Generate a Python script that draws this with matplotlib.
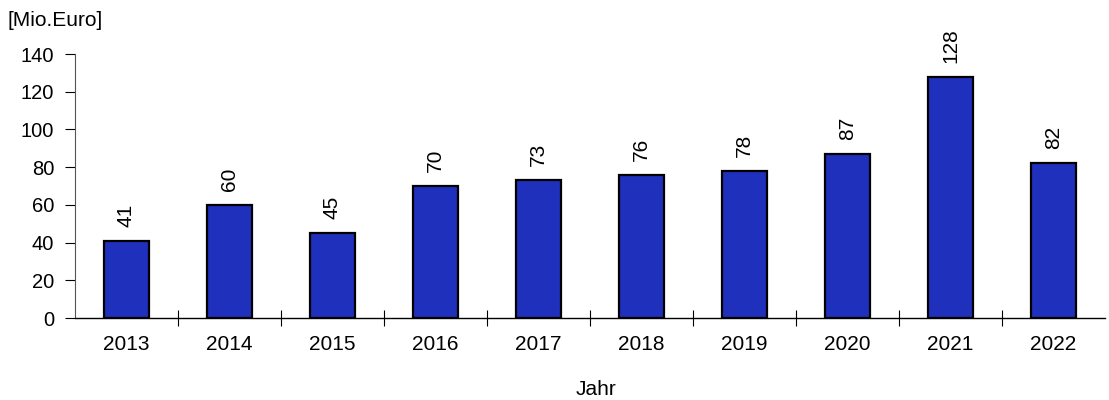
import matplotlib.pyplot as plt
import numpy as np

plt.rcParams['font.family'] = ['Liberation Sans', 'DejaVu Sans']

years = ['2013', '2014', '2015', '2016', '2017', '2018', '2019', '2020', '2021', '2022']
values = [41, 60, 45, 70, 73, 76, 78, 87, 128, 82]

fig = plt.figure(figsize=(11.09, 4.0), dpi=100)
ax = fig.add_axes([0.0676, 0.205, 0.9288, 0.66])

x = np.arange(len(years))
bars = ax.bar(x, values, width=0.44, color='#1f30bd', edgecolor='black', linewidth=1.6, zorder=3)

for xi, v in zip(x, values):
    ax.annotate(str(v), (xi, v), xytext=(0, 10), textcoords='offset points',
                rotation=90, ha='center', va='bottom', fontsize=15)

ax.set_xlim(-0.5, 9.5)
ax.set_ylim(0, 140)
ax.set_yticks(range(0, 141, 20))
ax.set_xticks(x)
ax.set_xticklabels(years, fontsize=15)
ax.set_xticks(np.arange(0.5, 9.5, 1), minor=True)
ax.tick_params(axis='x', which='major', length=0, pad=12)
ax.tick_params(axis='x', which='minor', direction='inout', length=12, width=0.8)
ax.tick_params(axis='y', direction='out', length=7, width=0.8, labelsize=14.5, pad=8)

ax.spines['top'].set_visible(False)
ax.spines['right'].set_visible(False)
ax.spines['left'].set_color('#555555')
ax.spines['left'].set_linewidth(0.8)
ax.spines['bottom'].set_linewidth(1.0)

fig.text(0.007, 0.95, '[Mio.Euro]', fontsize=15, ha='left', va='center')
fig.text(0.537, 0.027, 'Jahr', fontsize=15, ha='center', va='center')

plt.savefig('out.png', dpi=100)
